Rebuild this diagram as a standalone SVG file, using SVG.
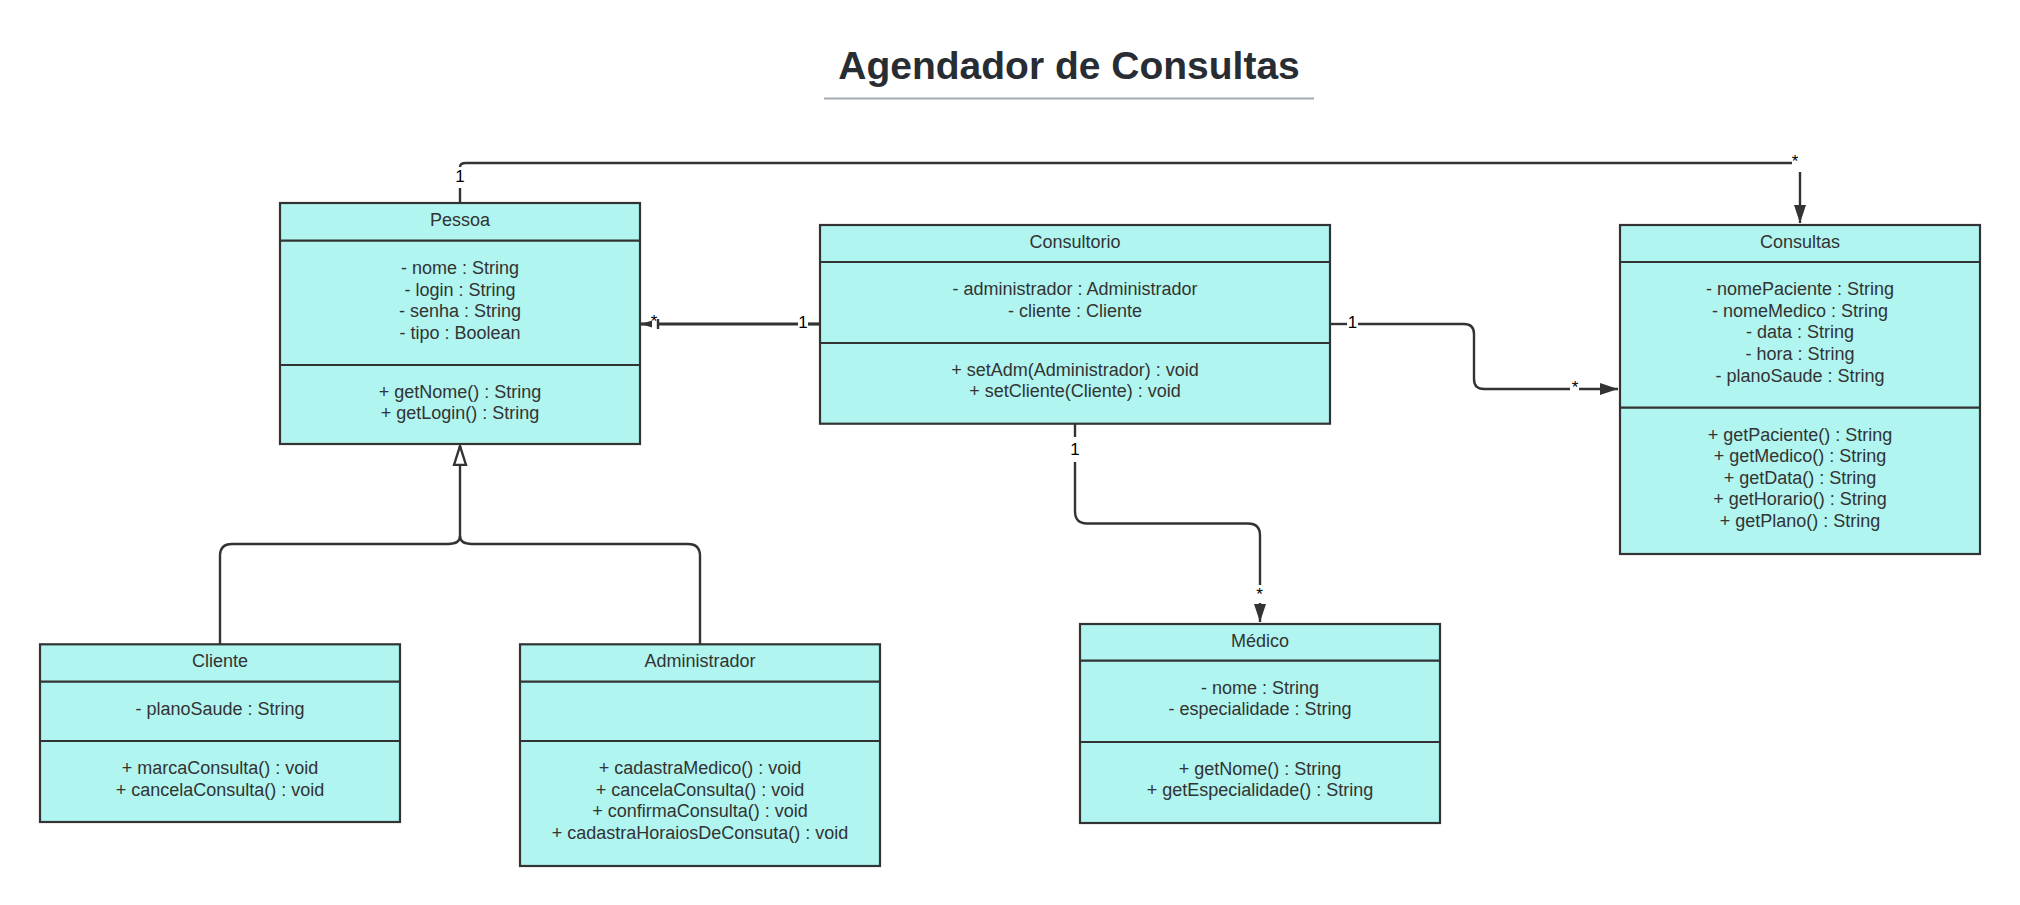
<svg xmlns="http://www.w3.org/2000/svg" width="2020" height="905" viewBox="0 0 2020 905">
<style>
.box{fill:#b0f5ef;stroke:#333;stroke-width:2.2}
.div{stroke:#333;stroke-width:2.2}
.t{font-family:"Liberation Sans",Arial,sans-serif;font-size:18px;fill:#333;text-anchor:middle}
.lbl{font-family:"Liberation Sans",Arial,sans-serif;font-size:17px;fill:#000;text-anchor:middle}
.c{fill:none;stroke:#333;stroke-width:2.4}
.thick{stroke-width:3.2}
</style>
<defs>
<marker id="arrow" markerUnits="userSpaceOnUse" markerWidth="18" markerHeight="12" refX="18" refY="6" orient="auto">
<path d="M0,0 L18,6 L0,12 z" fill="#333"/>
</marker>
<marker id="small" markerUnits="userSpaceOnUse" markerWidth="11" markerHeight="8" refX="11" refY="4" orient="auto">
<path d="M0,0.5 L11,4 L0,7.5 z" fill="#333"/>
</marker>
<marker id="inh" markerUnits="userSpaceOnUse" markerWidth="24" markerHeight="18" refX="20" refY="8" orient="auto">
<path d="M1,2 L20,8 L1,14 z" fill="#fff" stroke="#333" stroke-width="2.4"/>
</marker>
</defs>
<rect width="2020" height="905" fill="#fff"/>
<g id="title">
<text x="1069" y="79" font-family="'Liberation Sans',Arial,sans-serif" font-size="39" font-weight="bold" fill="#282c33" text-anchor="middle">Agendador de Consultas</text>
<line x1="824" y1="98.5" x2="1314" y2="98.5" stroke="#a3a9b3" stroke-width="2"/>
</g>
<g id="connectors">
<path class="c" d="M460,203 V188"/>
<path class="c" d="M460,167 Q460,163 466,163 H1792"/>
<path class="c" d="M1800,172 V223" marker-end="url(#arrow)"/>
<path class="c thick" d="M820,324 H808"/>
<path class="c thick" d="M798,324 H658"/>
<path class="c" stroke-width="1.5" d="M658,319 V329"/>
<path class="c thick" d="M652,324 H641" marker-end="url(#small)"/>
<path class="c" d="M1330,324 H1347"/>
<path class="c" d="M1358,324 H1464 Q1474,324 1474,334 V379 Q1474,389 1484,389 H1570"/>
<path class="c" d="M1579,389 H1618" marker-end="url(#arrow)"/>
<path class="c" d="M1075,424 V437"/>
<path class="c" d="M1075,462 V511 Q1075,523.5 1087,523.5 H1248 Q1260,523.5 1260,535.5 V585"/>
<path class="c" d="M1260,603 V622" marker-end="url(#arrow)"/>
<path class="c" d="M220,644 V556 Q220,544 232,544 H448 Q460,544 460,536 V446" marker-end="url(#inh)"/>
<path class="c" d="M700,644 V556 Q700,544 688,544 H472 Q460,544 460,536"/>
<text class="lbl" x="460" y="181.5">1</text>
<text class="lbl" x="1795" y="166.5">*</text>
<text class="lbl" x="654" y="326.5">*</text>
<text class="lbl" x="803" y="327.5">1</text>
<text class="lbl" x="1352.5" y="327.5">1</text>
<text class="lbl" x="1575" y="392.5">*</text>
<text class="lbl" x="1075" y="454.5">1</text>
<text class="lbl" x="1259.5" y="600">*</text>
</g>
<g id="pessoa">
<rect class="box" x="280" y="203" width="360" height="241"/>
<line class="div" x1="280" y1="240.7" x2="640" y2="240.7"/>
<line class="div" x1="280" y1="365" x2="640" y2="365"/>
<text class="t" x="460" y="226">Pessoa</text>
<text class="t" x="460" y="274">- nome : String</text>
<text class="t" x="460" y="295.6">- login : String</text>
<text class="t" x="460" y="317.2">- senha : String</text>
<text class="t" x="460" y="338.8">- tipo : Boolean</text>
<text class="t" x="460" y="397.5">+ getNome() : String</text>
<text class="t" x="460" y="419.1">+ getLogin() : String</text>
</g>
<g id="consultorio">
<rect class="box" x="820" y="225" width="510" height="198.7"/>
<line class="div" x1="820" y1="262" x2="1330" y2="262"/>
<line class="div" x1="820" y1="343" x2="1330" y2="343"/>
<text class="t" x="1075" y="247.5">Consultorio</text>
<text class="t" x="1075" y="295.3">- administrador : Administrador</text>
<text class="t" x="1075" y="316.9">- cliente : Cliente</text>
<text class="t" x="1075" y="375.6">+ setAdm(Administrador) : void</text>
<text class="t" x="1075" y="397.2">+ setCliente(Cliente) : void</text>
</g>
<g id="consultas">
<rect class="box" x="1620" y="225" width="360" height="329"/>
<line class="div" x1="1620" y1="262" x2="1980" y2="262"/>
<line class="div" x1="1620" y1="407.7" x2="1980" y2="407.7"/>
<text class="t" x="1800" y="247.5">Consultas</text>
<text class="t" x="1800" y="295.2">- nomePaciente : String</text>
<text class="t" x="1800" y="316.8">- nomeMedico : String</text>
<text class="t" x="1800" y="338.4">- data : String</text>
<text class="t" x="1800" y="360">- hora : String</text>
<text class="t" x="1800" y="381.6">- planoSaude : String</text>
<text class="t" x="1800" y="440.6">+ getPaciente() : String</text>
<text class="t" x="1800" y="462.2">+ getMedico() : String</text>
<text class="t" x="1800" y="483.8">+ getData() : String</text>
<text class="t" x="1800" y="505.4">+ getHorario() : String</text>
<text class="t" x="1800" y="527">+ getPlano() : String</text>
</g>
<g id="medico">
<rect class="box" x="1080" y="624" width="360" height="199"/>
<line class="div" x1="1080" y1="660.7" x2="1440" y2="660.7"/>
<line class="div" x1="1080" y1="742" x2="1440" y2="742"/>
<text class="t" x="1260" y="646.5">Médico</text>
<text class="t" x="1260" y="693.8">- nome : String</text>
<text class="t" x="1260" y="715.4">- especialidade : String</text>
<text class="t" x="1260" y="774.6">+ getNome() : String</text>
<text class="t" x="1260" y="796.2">+ getEspecialidade() : String</text>
</g>
<g id="cliente">
<rect class="box" x="40" y="644.3" width="360" height="177.7"/>
<line class="div" x1="40" y1="681.7" x2="400" y2="681.7"/>
<line class="div" x1="40" y1="741" x2="400" y2="741"/>
<text class="t" x="220" y="666.8">Cliente</text>
<text class="t" x="220" y="714.8">- planoSaude : String</text>
<text class="t" x="220" y="774.1">+ marcaConsulta() : void</text>
<text class="t" x="220" y="795.7">+ cancelaConsulta() : void</text>
</g>
<g id="administrador">
<rect class="box" x="520" y="644.3" width="360" height="221.7"/>
<line class="div" x1="520" y1="681.7" x2="880" y2="681.7"/>
<line class="div" x1="520" y1="741" x2="880" y2="741"/>
<text class="t" x="700" y="666.8">Administrador</text>
<text class="t" x="700" y="774.1">+ cadastraMedico() : void</text>
<text class="t" x="700" y="795.7">+ cancelaConsulta() : void</text>
<text class="t" x="700" y="817.3">+ confirmaConsulta() : void</text>
<text class="t" x="700" y="838.9">+ cadastraHoraiosDeConsuta() : void</text>
</g>
</svg>
